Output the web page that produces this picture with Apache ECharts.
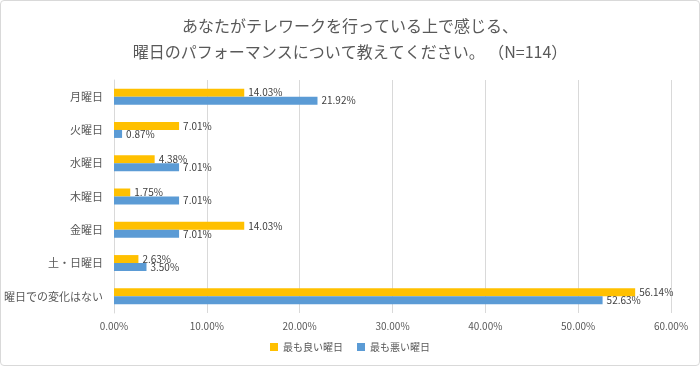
<!DOCTYPE html>
<html><head><meta charset="utf-8">
<script src="https://cdn.jsdelivr.net/npm/echarts@6/dist/echarts.min.js"></script>
<style>html,body{margin:0;padding:0;background:#fff}#c{width:700px;height:366px;box-sizing:border-box;border:1px solid #d9d9d9;border-radius:4px}</style>
</head><body><div id="c"></div>
<script>
const categories = ['月曜日','火曜日','水曜日','木曜日','金曜日','土・日曜日','曜日での変化はない'];
const bestDay = [14.03, 7.01, 4.38, 1.75, 14.03, 2.63, 56.14];
const worstDay = [21.92, 0.87, 7.01, 7.01, 7.01, 3.50, 52.63];
const seriesNames = ['最も良い曜日','最も悪い曜日'];
const xTicks = [0,10,20,30,40,50,60];
const titleText = 'あなたがテレワークを行っている上で感じる、\n曜日のパフォーマンスについて教えてください。 （N=114）';

const font = '"Noto Sans CJK JP", sans-serif';
const chart = echarts.init(document.getElementById('c'));
const lbl = {show:true, position:'right', distance:4, color:'#404040', fontSize:10, fontFamily:font,
  formatter: p => p.value.toFixed(2)+'%'};
chart.setOption({
  animation:false,
  title:{text:titleText, left:'center', top:7, textStyle:{color:'#595959', fontSize:16, fontWeight:'normal', fontFamily:font, lineHeight:26}},
  legend:{bottom:8, left:'center', itemWidth:8, itemHeight:8, itemGap:14, icon:'rect',
    textStyle:{color:'#595959', fontSize:10, fontFamily:font}, data:seriesNames},
  grid:{left:113, right:28, top:79, bottom:52},
  xAxis:{type:'value', min:xTicks[0], max:xTicks[xTicks.length-1], interval:10,
    axisLabel:{formatter:v=>v.toFixed(2)+'%', color:'#595959', fontSize:10, fontFamily:font, margin:8},
    splitLine:{lineStyle:{color:'#d9d9d9'}}, axisLine:{show:false}, axisTick:{show:false}},
  yAxis:{type:'category', data:categories, inverse:true,
    axisLabel:{color:'#595959', fontSize:11, fontFamily:font, margin:11},
    axisLine:{lineStyle:{color:'#d9d9d9'}}, axisTick:{show:false}},
  series:[
    {name:seriesNames[0], type:'bar', data:bestDay, barWidth:8, barGap:'0%', itemStyle:{color:'#FFC000'}, label:lbl},
    {name:seriesNames[1], type:'bar', data:worstDay, barWidth:8, barGap:'0%', itemStyle:{color:'#5B9BD5'}, label:lbl}
  ]
});
</script></body></html>
